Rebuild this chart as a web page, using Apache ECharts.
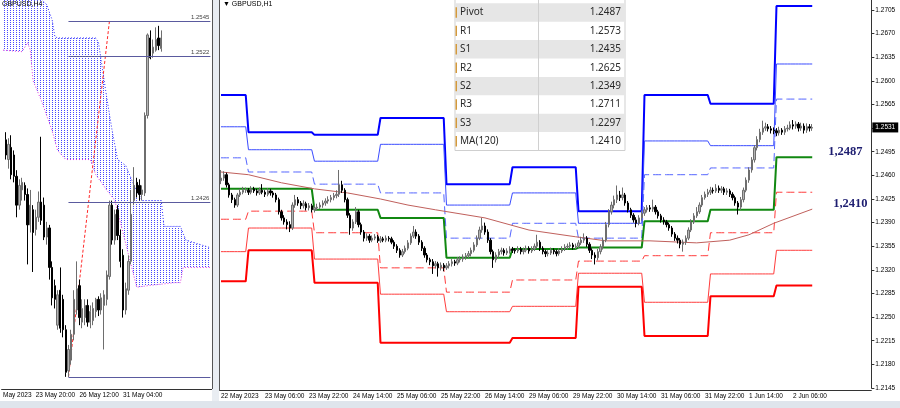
<!DOCTYPE html>
<html>
<head>
<meta charset="utf-8">
<script src="https://cdn.jsdelivr.net/npm/echarts@6/dist/echarts.min.js"></script>
<style>
html, body { margin: 0; padding: 0; background: #fff; }
#chart { width: 900px; height: 408px; }
</style>
</head>
<body>
<div id="chart"></div>
<script>
// ---------- H1 panel (right) ----------
const h1TickLabels = ['22 May 2023', '23 May 06:00', '23 May 22:00', '24 May 14:00', '25 May 06:00', '25 May 22:00',
  '26 May 14:00', '29 May 06:00', '29 May 22:00', '30 May 14:00', '31 May 06:00', '31 May 22:00', '1 Jun 14:00', '2 Jun 06:00'];

const h1FirstOpen = 1.2452;
const h1Close = [
  1.2456,1.2461,1.2446,1.2431,1.2424,1.2416,1.2431,1.2435,1.2438,1.2438,
  1.2435,1.2440,1.2437,1.2434,1.2438,1.2435,1.2432,1.2437,1.2434,1.2431,
  1.2424,1.2406,1.2397,1.2391,1.2387,1.2382,1.2416,1.2424,1.2419,1.2415,
  1.2418,1.2412,1.2415,1.2409,1.2412,1.2413,1.2416,1.2419,1.2422,1.2424,
  1.2427,1.2430,1.2432,1.2446,1.2438,1.2424,1.2401,1.2382,1.2391,1.2406,
  1.2387,1.2376,1.2367,1.2370,1.2364,1.2367,1.2369,1.2363,1.2366,1.2364,
  1.2367,1.2366,1.2361,1.2355,1.2349,1.2342,1.2347,1.2352,1.2360,1.2370,
  1.2376,1.2370,1.2361,1.2352,1.2342,1.2335,1.2332,1.2326,1.2329,1.2323,
  1.2327,1.2323,1.2326,1.2329,1.2332,1.2330,1.2335,1.2336,1.2339,1.2341,
  1.2344,1.2349,1.2357,1.2367,1.2379,1.2385,1.2376,1.2364,1.2347,1.2335,
  1.2342,1.2347,1.2349,1.2345,1.2348,1.2351,1.2349,1.2348,1.2351,1.2347,
  1.2349,1.2352,1.2348,1.2351,1.2355,1.2361,1.2352,1.2347,1.2344,1.2345,
  1.2349,1.2347,1.2344,1.2348,1.2351,1.2354,1.2355,1.2357,1.2354,1.2355,
  1.2360,1.2364,1.2367,1.2358,1.2349,1.2342,1.2338,1.2347,1.2354,1.2364,
  1.2387,1.2406,1.2416,1.2424,1.2431,1.2427,1.2431,1.2419,1.2409,1.2401,
  1.2394,1.2389,1.2397,1.2404,1.2409,1.2412,1.2410,1.2413,1.2406,1.2400,
  1.2394,1.2391,1.2387,1.2382,1.2373,1.2367,1.2364,1.2358,1.2361,1.2367,
  1.2379,1.2391,1.2400,1.2406,1.2416,1.2427,1.2432,1.2435,1.2438,1.2437,
  1.2441,1.2438,1.2440,1.2435,1.2437,1.2432,1.2427,1.2419,1.2413,1.2424,
  1.2438,1.2453,1.2468,1.2483,1.2501,1.2513,1.2524,1.2530,1.2532,1.2529,
  1.2527,1.2526,1.2523,1.2527,1.2524,1.2529,1.2530,1.2535,1.2533,1.2536,
  1.2530,1.2533,1.2527,1.2532,1.2530,1.2531
];
const h1High = [
  1.2468,1.2466,1.2464,1.2449,1.2434,1.2427,1.2434,1.2440,1.2443,1.2442,
  1.2441,1.2444,1.2443,1.2440,1.2442,1.2447,1.2438,1.2441,1.2440,1.2437,
  1.2434,1.2427,1.2409,1.2401,1.2395,1.2392,1.2420,1.2431,1.2428,1.2422,
  1.2423,1.2421,1.2419,1.2418,1.2416,1.2418,1.2420,1.2423,1.2426,1.2429,
  1.2431,1.2434,1.2438,1.2468,1.2452,1.2441,1.2427,1.2404,1.2395,1.2413,
  1.2409,1.2390,1.2379,1.2374,1.2373,1.2371,1.2373,1.2372,1.2370,1.2369,
  1.2371,1.2370,1.2369,1.2364,1.2358,1.2352,1.2351,1.2356,1.2364,1.2374,
  1.2385,1.2380,1.2373,1.2364,1.2355,1.2345,1.2338,1.2336,1.2333,1.2332,
  1.2331,1.2330,1.2330,1.2333,1.2336,1.2335,1.2339,1.2340,1.2343,1.2345,
  1.2348,1.2353,1.2361,1.2371,1.2384,1.2397,1.2390,1.2380,1.2367,1.2350,
  1.2346,1.2351,1.2353,1.2352,1.2352,1.2355,1.2354,1.2352,1.2355,1.2354,
  1.2353,1.2356,1.2355,1.2355,1.2359,1.2372,1.2364,1.2355,1.2350,1.2349,
  1.2353,1.2352,1.2350,1.2352,1.2355,1.2358,1.2359,1.2361,1.2360,1.2359,
  1.2364,1.2369,1.2374,1.2370,1.2361,1.2352,1.2346,1.2351,1.2358,1.2368,
  1.2391,1.2410,1.2421,1.2430,1.2445,1.2437,1.2442,1.2434,1.2422,1.2412,
  1.2404,1.2398,1.2401,1.2408,1.2413,1.2416,1.2416,1.2424,1.2416,1.2409,
  1.2403,1.2398,1.2394,1.2390,1.2385,1.2376,1.2371,1.2367,1.2365,1.2371,
  1.2383,1.2395,1.2404,1.2413,1.2420,1.2431,1.2436,1.2440,1.2443,1.2442,
  1.2447,1.2445,1.2444,1.2443,1.2441,1.2440,1.2435,1.2430,1.2422,1.2428,
  1.2442,1.2457,1.2472,1.2487,1.2505,1.2518,1.2529,1.2541,1.2538,1.2536,
  1.2533,1.2531,1.2530,1.2532,1.2530,1.2533,1.2535,1.2540,1.2542,1.2540,
  1.2539,1.2538,1.2537,1.2537,1.2536,1.2536
];
const h1Low = [
  1.2447,1.2452,1.2442,1.2427,1.2419,1.2412,1.2413,1.2428,1.2432,1.2434,
  1.2431,1.2432,1.2434,1.2430,1.2431,1.2432,1.2428,1.2429,1.2430,1.2427,
  1.2420,1.2402,1.2393,1.2387,1.2380,1.2376,1.2379,1.2412,1.2415,1.2410,
  1.2411,1.2408,1.2408,1.2405,1.2405,1.2408,1.2410,1.2412,1.2415,1.2418,
  1.2420,1.2423,1.2426,1.2428,1.2434,1.2420,1.2397,1.2372,1.2378,1.2388,
  1.2383,1.2372,1.2362,1.2363,1.2360,1.2361,1.2364,1.2360,1.2360,1.2361,
  1.2361,1.2362,1.2358,1.2351,1.2345,1.2338,1.2339,1.2344,1.2349,1.2357,
  1.2367,1.2366,1.2357,1.2348,1.2338,1.2331,1.2327,1.2314,1.2322,1.2310,
  1.2319,1.2318,1.2320,1.2322,1.2325,1.2326,1.2327,1.2331,1.2332,1.2335,
  1.2337,1.2340,1.2346,1.2354,1.2364,1.2375,1.2372,1.2360,1.2343,1.2323,
  1.2331,1.2338,1.2343,1.2341,1.2342,1.2344,1.2345,1.2344,1.2345,1.2343,
  1.2343,1.2346,1.2344,1.2345,1.2348,1.2352,1.2348,1.2343,1.2339,1.2340,
  1.2342,1.2343,1.2340,1.2341,1.2345,1.2348,1.2350,1.2352,1.2350,1.2350,
  1.2352,1.2357,1.2360,1.2354,1.2345,1.2336,1.2328,1.2334,1.2343,1.2350,
  1.2361,1.2383,1.2402,1.2411,1.2419,1.2422,1.2423,1.2415,1.2405,1.2397,
  1.2390,1.2383,1.2386,1.2393,1.2400,1.2405,1.2406,1.2406,1.2402,1.2396,
  1.2390,1.2387,1.2383,1.2378,1.2369,1.2363,1.2359,1.2352,1.2347,1.2357,
  1.2364,1.2376,1.2388,1.2397,1.2403,1.2413,1.2424,1.2428,1.2431,1.2433,
  1.2434,1.2434,1.2434,1.2431,1.2431,1.2428,1.2423,1.2415,1.2402,1.2409,
  1.2420,1.2435,1.2449,1.2464,1.2479,1.2497,1.2509,1.2520,1.2526,1.2525,
  1.2522,1.2521,1.2518,1.2519,1.2520,1.2520,1.2525,1.2527,1.2528,1.2529,
  1.2525,1.2526,1.2522,1.2523,1.2525,1.2526
];

// daily pivot levels, one value per trading day, starting at these bar indexes
const dayStart  = [0, 10, 34, 58, 82, 106, 130, 154, 178, 202];
const r3Days    = [1.2579, 1.2524, 1.2520, 1.2545, 1.2447, 1.2472, 1.2407, 1.2579, 1.2566, 1.2711];
const r2Days    = [1.2532, 1.2498, 1.2481, 1.2506, 1.2416, 1.2434, 1.2389, 1.2511, 1.2504, 1.2625];
const r1Days    = [1.2486, 1.2465, 1.2447, 1.2434, 1.2367, 1.2389, 1.2367, 1.2461, 1.2471, 1.2573];
const pivotDays = [1.2440, 1.2440, 1.2409, 1.2397, 1.2338, 1.2351, 1.2353, 1.2392, 1.2409, 1.2487];
const s1Days    = [1.2395, 1.2407, 1.2375, 1.2323, 1.2287, 1.2305, 1.2333, 1.2341, 1.2375, 1.2435];
const s2Days    = [1.2347, 1.2382, 1.2336, 1.2284, 1.2258, 1.2266, 1.2315, 1.2272, 1.2314, 1.2349];
const s3Days    = [1.2303, 1.2349, 1.2301, 1.2212, 1.2212, 1.2219, 1.2295, 1.2222, 1.2281, 1.2297];

// MA(120) read at some bars: [bar index, value]
const maPoints = [[0,1.2465],[10,1.2461],[22,1.2449],[34,1.2440],[46,1.2434],[58,1.2425],[68,1.2416],
  [78,1.2409],[96,1.2397],[112,1.2379],[129,1.2369],[140,1.2363],[156,1.2363],[173,1.2360],
  [185,1.2364],[192,1.2372],[201,1.2389],[215,1.2410]];

const tableNames  = ['Pivot', 'R1', 'S1', 'R2', 'S2', 'R3', 'S3', 'MA(120)'];
const tableValues = [1.2487, 1.2573, 1.2435, 1.2625, 1.2349, 1.2711, 1.2297, 1.2410];
const lastPrice = 1.2531;

// ---------- H4 panel (left) ----------
const h4TickIdx    = [0, 12, 28, 44];
const h4TickLabels = ['May 2023', '23 May 20:00', '26 May 12:00', '31 May 04:00'];
const h4Open = [
  1.2467,1.2454,1.2462,1.2457,1.2443,1.2424,1.2434,1.2437,1.2431,1.2411,
  1.2421,1.2408,1.2416,1.2426,1.2424,1.2403,1.2409,1.2383,1.2371,1.2345,
  1.2368,1.2362,1.2342,1.2315,1.2322,1.2339,1.2355,1.2371,1.2347,1.2350,
  1.2358,1.2347,1.2348,1.2354,1.2362,1.2355,1.2358,1.2362,1.2377,1.2424,
  1.2401,1.2421,1.2404,1.2391,1.2355,1.2368,1.2387,1.2427,1.2439,1.2437,
  1.2431,1.2432,1.2483,1.2534,1.2524,1.2526,1.2534,1.2527
];
const h4Close = [
  1.2457,1.2464,1.2444,1.2443,1.2424,1.2437,1.2439,1.2431,1.2411,1.2424,
  1.2406,1.2416,1.2426,1.2414,1.2403,1.2409,1.2383,1.2363,1.2362,1.2365,
  1.2343,1.2342,1.2314,1.2329,1.2339,1.2362,1.2369,1.2350,1.2356,1.2358,
  1.2347,1.2354,1.2356,1.2362,1.2355,1.2363,1.2365,1.2378,1.2424,1.2401,
  1.2418,1.2404,1.2387,1.2355,1.2369,1.2387,1.2418,1.2437,1.2432,1.2431,
  1.2434,1.2483,1.2536,1.2521,1.2528,1.2533,1.2529,1.2534
];
const h4Low = [
  1.2454,1.2448,1.2441,1.2439,1.2416,1.2421,1.2427,1.2427,1.2385,1.2406,
  1.2380,1.2404,1.2413,1.2411,1.2401,1.2398,1.2375,1.2358,1.2356,1.2342,
  1.2340,1.2337,1.2311,1.2311,1.2319,1.2335,1.2352,1.2345,1.2343,1.2345,
  1.2344,1.2343,1.2345,1.2350,1.2351,1.2352,1.2329,1.2358,1.2375,1.2398,
  1.2398,1.2401,1.2383,1.2350,1.2352,1.2365,1.2385,1.2424,1.2429,1.2427,
  1.2427,1.2430,1.2481,1.2520,1.2521,1.2525,1.2526,1.2525
];
const h4High = [
  1.2472,1.2468,1.2470,1.2460,1.2447,1.2441,1.2442,1.2439,1.2435,1.2434,
  1.2424,1.2421,1.2433,1.2469,1.2429,1.2413,1.2411,1.2387,1.2375,1.2368,
  1.2383,1.2365,1.2345,1.2332,1.2342,1.2368,1.2387,1.2375,1.2362,1.2362,
  1.2362,1.2358,1.2360,1.2363,1.2364,1.2366,1.2368,1.2381,1.2427,1.2427,
  1.2421,1.2424,1.2408,1.2395,1.2373,1.2391,1.2434,1.2449,1.2442,1.2441,
  1.2437,1.2485,1.2537,1.2539,1.2533,1.2541,1.2542,1.2539
];
// ichimoku cloud edges: [H4 bar index, value]
const cloudTop = [[-1,1.2565],[10,1.2565],[15,1.2556],[17,1.2546],[18,1.2535],[19,1.2534],[33,1.2534],
  [34,1.2531],[37,1.2495],[39,1.2473],[41,1.2454],[44,1.2450],[47,1.2437],[50,1.2427],[57,1.2427],
  [58,1.2410],[64,1.2410],[66,1.2401],[75,1.2396]];
const cloudBottom = [[-1,1.2526],[6,1.2525],[8,1.2531],[9,1.2526],[10,1.2506],[13,1.2493],[17,1.2473],
  [19,1.2460],[22,1.2454],[31,1.2454],[33,1.2444],[37,1.2434],[40,1.2427],[48,1.2370],[52,1.2371],
  [62,1.2373],[64,1.2373],[65,1.2383],[75,1.2383]];
const h4Levels = [1.2545, 1.2522, 1.2426, 1.2311];
const h4LevelLabels = ['1.2545', '1.2522', '1.2426', ''];
const h4LevelStart = 23;
const trendLine = [[23, 1.2311], [38, 1.2545]];

// ---------- layout helpers ----------
const H1_CATS = 237, H4_CATS = 77, H4_SHIFT = 1, TICK_STEP = 16;
const showH1Tick = (i) => i % TICK_STEP === 0;
const showH4Tick = (i) => h4TickIdx.indexOf(i) >= 0;

const h1Cats = Array.from({ length: H1_CATS }, (_, k) => (showH1Tick(k) && h1TickLabels[k / TICK_STEP]) || '');
const h4Cats = Array.from({ length: H4_CATS }, (_, k) => (showH4Tick(k) ? h4TickLabels[h4TickIdx.indexOf(k)] : ''));

function expandDays(days) {
  return h1Close.map((_, i) => {
    let d = 0;
    while (d + 1 < dayStart.length && dayStart[d + 1] <= i) d++;
    return days[d];
  });
}

const h1Candles = h1Close.map((c, i) => [i === 0 ? h1FirstOpen : h1Close[i - 1], c, h1Low[i], h1High[i]]);
const h4Candles = h4Close.map((c, i) => [i + H4_SHIFT, h4Open[i], c, h4Low[i], h4High[i]]);
const shiftPts = (pts) => pts.map(p => [p[0] + H4_SHIFT, p[1]]);

const candleStyle = { color: '#b4b4b4', color0: '#000000', borderColor: '#6e6e6e', borderColor0: '#000000', borderWidth: 1 };

// dotted hatch for the cloud
const dot = document.createElement('canvas');
dot.width = 3; dot.height = 2;
const dctx = dot.getContext('2d');
dctx.fillStyle = '#4646ff';
dctx.fillRect(1, 0, 1, 1);

const levels = [
  { days: r3Days, color: '#0000ff', width: 2, type: 'solid', price: true },
  { days: r2Days, color: '#3a4bff', width: 1, type: 'solid' },
  { days: r1Days, color: '#5465ff', width: 1, type: [8, 4] },
  { days: pivotDays, color: '#118811', width: 2, type: 'solid', label: true },
  { days: s1Days, color: '#ff3c3c', width: 1, type: [8, 4] },
  { days: s2Days, color: '#ff3c3c', width: 1, type: 'solid' },
  { days: s3Days, color: '#ff0000', width: 2, type: 'solid' }
];

const bigLabel = { show: true, distance: 16, offset: [0, -5], color: '#1d1d70', fontFamily: '"Liberation Serif", "Times New Roman", serif',
  fontWeight: 'bold', fontSize: 12.5, formatter: (p) => (Array.isArray(p.value) ? p.value[1] : p.value).toFixed(4).replace('.', ',') };

// current price box on the right scale
const priceMark = {
  symbol: 'none', silent: true, animation: false, precision: 4, data: [{ yAxis: lastPrice }],
  lineStyle: { color: 'rgba(0,0,0,0)', width: 0 },
  label: { show: true, position: 'end', formatter: lastPrice.toFixed(4), backgroundColor: '#000', color: '#fff',
    fontSize: 6.5, padding: [2, 3, 1, 3], distance: 1 }
};

const series = [
  // left panel
  {
    type: 'custom', xAxisIndex: 0, yAxisIndex: 0, silent: true, z: 1, data: [0],
    renderItem: function (params, api) {
      const top = shiftPts(cloudTop).map(p => api.coord(p));
      const bot = shiftPts(cloudBottom).reverse().map(p => api.coord(p));
      return { type: 'polygon', shape: { points: top.concat(bot) }, style: { fill: { image: dot, repeat: 'repeat' } } };
    }
  },
  { type: 'line', xAxisIndex: 0, yAxisIndex: 0, data: shiftPts(cloudTop), symbol: 'none', z: 2,
    lineStyle: { color: '#2a2aff', width: 1, type: [1, 2] } },
  { type: 'line', xAxisIndex: 0, yAxisIndex: 0, data: shiftPts(cloudBottom), symbol: 'none', z: 2,
    lineStyle: { color: '#e030e0', width: 1, type: [1, 2] } },
  { type: 'line', xAxisIndex: 0, yAxisIndex: 0, data: shiftPts(trendLine), symbol: 'none', z: 3,
    lineStyle: { color: '#ff2a2a', width: 1, type: [3, 2] } },
  {
    type: 'candlestick', xAxisIndex: 0, yAxisIndex: 0, data: h4Candles, encode: { x: 0, y: [1, 2, 3, 4] },
    barWidth: 1.8, itemStyle: candleStyle, z: 4,
    markLine: {
      symbol: 'none', silent: true, animation: false, precision: 4,
      lineStyle: { color: '#5a5a9e', width: 1, type: 'solid' },
      label: { position: 'insideEndTop', fontSize: 6, color: '#444', distance: 1, formatter: '{b}' },
      data: h4Levels.map((v, j) => [{ coord: [h4LevelStart + H4_SHIFT, v], name: h4LevelLabels[j] }, { coord: [H4_CATS - 1, v] }])
    }
  },
  // right panel
  ...levels.map(l => ({
    type: 'line', xAxisIndex: 1, yAxisIndex: 1, data: expandDays(l.days), symbol: 'none', z: 2,
    lineStyle: { color: l.color, width: l.width, type: l.type },
    endLabel: l.label ? bigLabel : { show: false },
    markLine: l.price ? priceMark : undefined
  })),
  { type: 'line', xAxisIndex: 1, yAxisIndex: 1, data: maPoints, symbol: 'none', z: 3,
    lineStyle: { color: '#c0605c', width: 1 }, endLabel: Object.assign({}, bigLabel, { distance: 21 }) },
  { type: 'candlestick', xAxisIndex: 1, yAxisIndex: 1, data: h1Candles, barWidth: 1.6, itemStyle: candleStyle, z: 4 }
];

// chrome, titles and the level table
const graphics = [
  { type: 'rect', shape: { x: 212, y: 0, width: 7, height: 401 }, style: { fill: '#e9edf2' }, z: 50 },
  { type: 'line', shape: { x1: 212.5, y1: 0, x2: 212.5, y2: 389 }, style: { stroke: '#555', lineWidth: 1 }, z: 51 },
  { type: 'line', shape: { x1: 219.5, y1: 0, x2: 219.5, y2: 390 }, style: { stroke: '#555', lineWidth: 1 }, z: 51 },
  { type: 'rect', shape: { x: 0, y: 401, width: 900, height: 7 }, style: { fill: '#dfe5ec' }, z: 50 },
  { type: 'text', x: 2, y: 1, style: { text: 'GBPUSD,H4', font: '7px "Liberation Sans"', fill: '#000' }, z: 52 },
  { type: 'text', x: 223, y: 1, style: { text: '▼ GBPUSD,H1', font: '7px "Liberation Sans"', fill: '#000' }, z: 52 }
];
const tx = 455, ty = 3.3, tw = 170, rh = 18.4;
graphics.push({ type: 'rect', shape: { x: tx, y: -1, width: tw, height: ty + rh * tableNames.length + 1 },
  style: { fill: '#fff', stroke: '#cfcfcf', lineWidth: 1 }, z: 60 });
tableNames.forEach((name, r) => {
  const y = ty + r * rh;
  if (r % 2 === 0) graphics.push({ type: 'rect', shape: { x: tx + 0.5, y: y, width: tw - 1, height: rh }, style: { fill: '#e6e6e6' }, z: 61 });
  graphics.push({ type: 'rect', shape: { x: tx + 0.5, y: y + 4, width: 1.5, height: rh - 8 }, style: { fill: '#d49a3c' }, z: 62 });
  graphics.push({ type: 'text', x: tx + 5, y: y + rh / 2,
    style: { text: name, font: '10px "Noto Sans"', fill: '#2a2a2a', textVerticalAlign: 'middle' }, z: 62 });
  graphics.push({ type: 'text', x: tx + 166, y: y + rh / 2,
    style: { text: tableValues[r].toFixed(4), font: '10px "Noto Sans"', fill: '#2a2a2a', textAlign: 'right', textVerticalAlign: 'middle' }, z: 62 });
});
graphics.push({ type: 'line', shape: { x1: 538.5, y1: 0, x2: 538.5, y2: ty + rh * tableNames.length },
  style: { stroke: '#d0d0d0', lineWidth: 1 }, z: 62 });

const axisText = { fontSize: 6.5, color: '#000', fontFamily: '"Liberation Sans", Arial, sans-serif' };

const chart = echarts.init(document.getElementById('chart'));
chart.setOption({
  animation: false,
  backgroundColor: '#fff',
  textStyle: { fontFamily: '"Liberation Sans", Arial, sans-serif' },
  grid: [
    { left: 0, top: 0, width: H4_CATS * 2.75, height: 389 },
    { left: 219.6, top: 0, width: H1_CATS * 2.75, height: 388 }
  ],
  xAxis: [
    { gridIndex: 0, type: 'category', data: h4Cats, boundaryGap: true,
      axisLine: { lineStyle: { color: '#333' } },
      axisTick: { interval: showH4Tick, alignWithLabel: true, length: 3, lineStyle: { color: '#333' } },
      axisLabel: Object.assign({ interval: showH4Tick, align: 'left', margin: 3, hideOverlap: false }, axisText) },
    { gridIndex: 1, type: 'category', data: h1Cats, boundaryGap: true, offset: 2,
      axisLine: { lineStyle: { color: '#333' } },
      axisTick: { interval: showH1Tick, alignWithLabel: true, length: 3, lineStyle: { color: '#333' } },
      axisLabel: Object.assign({ interval: showH1Tick, align: 'left', margin: 3, hideOverlap: false }, axisText) }
  ],
  yAxis: [
    { gridIndex: 0, type: 'value', min: 1.2303, max: 1.2559, show: false, splitLine: { show: false } },
    { gridIndex: 1, type: 'value', position: 'right', min: 1.2145, max: 1.27198, interval: 0.0035,
      axisLine: { show: true, lineStyle: { color: '#333' } },
      axisTick: { show: true, length: 3, lineStyle: { color: '#333' } },
      axisLabel: Object.assign({ margin: 4, showMaxLabel: false,
        formatter: (v) => (Math.abs(v - lastPrice) < 0.0003 ? '' : v.toFixed(4)) }, axisText),
      splitLine: { show: false } }
  ],
  series: series,
  graphic: { elements: graphics }
});
</script>
</body>
</html>
